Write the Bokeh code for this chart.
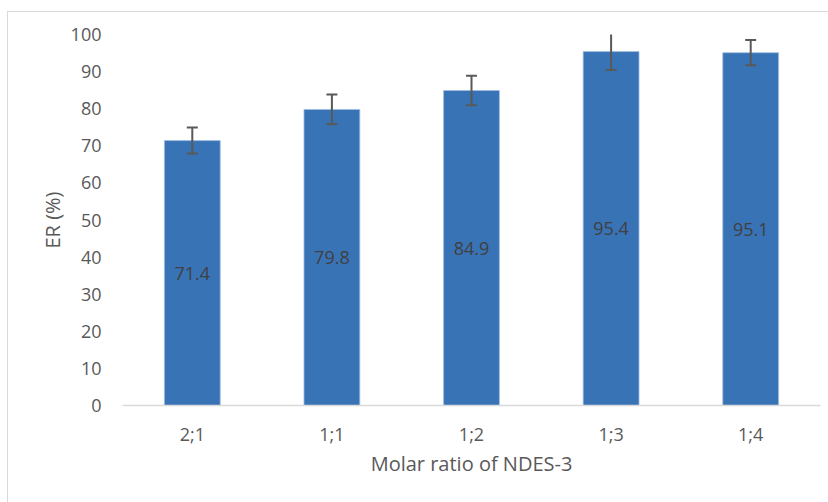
from bokeh.plotting import figure
from bokeh.models import ColumnDataSource, Range1d, FactorRange, LabelSet
from bokeh.embed import file_html
from bokeh.resources import INLINE
from bokeh.core.properties import value

categories = ["2;1", "1;1", "1;2", "1;3", "1;4"]
er_values = [71.4, 79.8, 84.9, 95.4, 95.1]
er_errors = [3.5, 4.0, 4.0, 5.0, 3.4]
y_ticks = [0, 10, 20, 30, 40, 50, 60, 70, 80, 90, 100]

upper = [v + e for v, e in zip(er_values, er_errors)]
lower = [v - e for v, e in zip(er_values, er_errors)]
mid = [v / 2 for v in er_values]
labels = [f"{v:.1f}" for v in er_values]

src = ColumnDataSource(dict(cat=categories, val=er_values, up=upper, lo=lower,
                            mid=mid, lab=labels))

FONT = "Open Sans"
p = figure(width=821, height=491, x_range=FactorRange(*categories, range_padding=0),
           y_range=Range1d(0, 100), output_backend="svg", toolbar_location=None,
           min_border_left=114, min_border_right=9, min_border_top=22, min_border_bottom=98)
p.margin = (11, 0, 0, 7)
p.styles = {"border-left": "1px solid #d9d9d9", "border-top": "1px solid #d9d9d9",
            "box-sizing": "border-box"}
p.outline_line_color = None
p.xgrid.visible = False
p.ygrid.visible = False

p.vbar(x="cat", top="val", width=0.4, source=src, fill_color="#3873b6",
       line_color="#9fbfe3", line_width=0.8)

p.segment(x0="cat", y0="lo", x1="cat", y1="up", source=src, line_color="#595959", line_width=2)
p.scatter(x="cat", y="up", marker="dash", size=11, source=src, line_color="#595959", line_width=2)
p.scatter(x="cat", y="lo", marker="dash", size=11, source=src, line_color="#595959", line_width=2)

lbl = LabelSet(x="cat", y="mid", text="lab", source=src, text_align="center",
               text_baseline="middle", text_font=value(FONT), text_font_size="18px",
               text_color="#404040")
p.add_layout(lbl)

# y axis
p.yaxis.ticker = y_ticks
p.yaxis.axis_line_color = None
p.yaxis.major_tick_line_color = None
p.yaxis.minor_tick_line_color = None
p.yaxis.major_label_text_font = FONT
p.yaxis.major_label_text_font_size = "18px"
p.yaxis.major_label_text_color = "#595959"
p.yaxis.major_label_standoff = 15
p.yaxis.axis_label = "ER (%)"
p.yaxis.axis_label_text_font = FONT
p.yaxis.axis_label_text_font_size = "20px"
p.yaxis.axis_label_text_font_style = "normal"
p.yaxis.axis_label_text_color = "#595959"
p.yaxis.axis_label_standoff = 2

# x axis
p.xaxis.axis_line_color = "#d9d9d9"
p.xaxis.axis_line_width = 1.5
p.xaxis.major_tick_line_color = None
p.xaxis.minor_tick_line_color = None
p.xaxis.major_label_text_font = FONT
p.xaxis.major_label_text_font_size = "18px"
p.xaxis.major_label_text_color = "#595959"
p.xaxis.major_label_standoff = 10
p.xaxis.axis_label = "Molar ratio of NDES-3"
p.xaxis.axis_label_text_font = FONT
p.xaxis.axis_label_text_font_size = "20px"
p.xaxis.axis_label_text_font_style = "normal"
p.xaxis.axis_label_text_color = "#595959"
p.xaxis.axis_label_standoff = 1

open("out.html", "w").write(file_html(p, INLINE))
